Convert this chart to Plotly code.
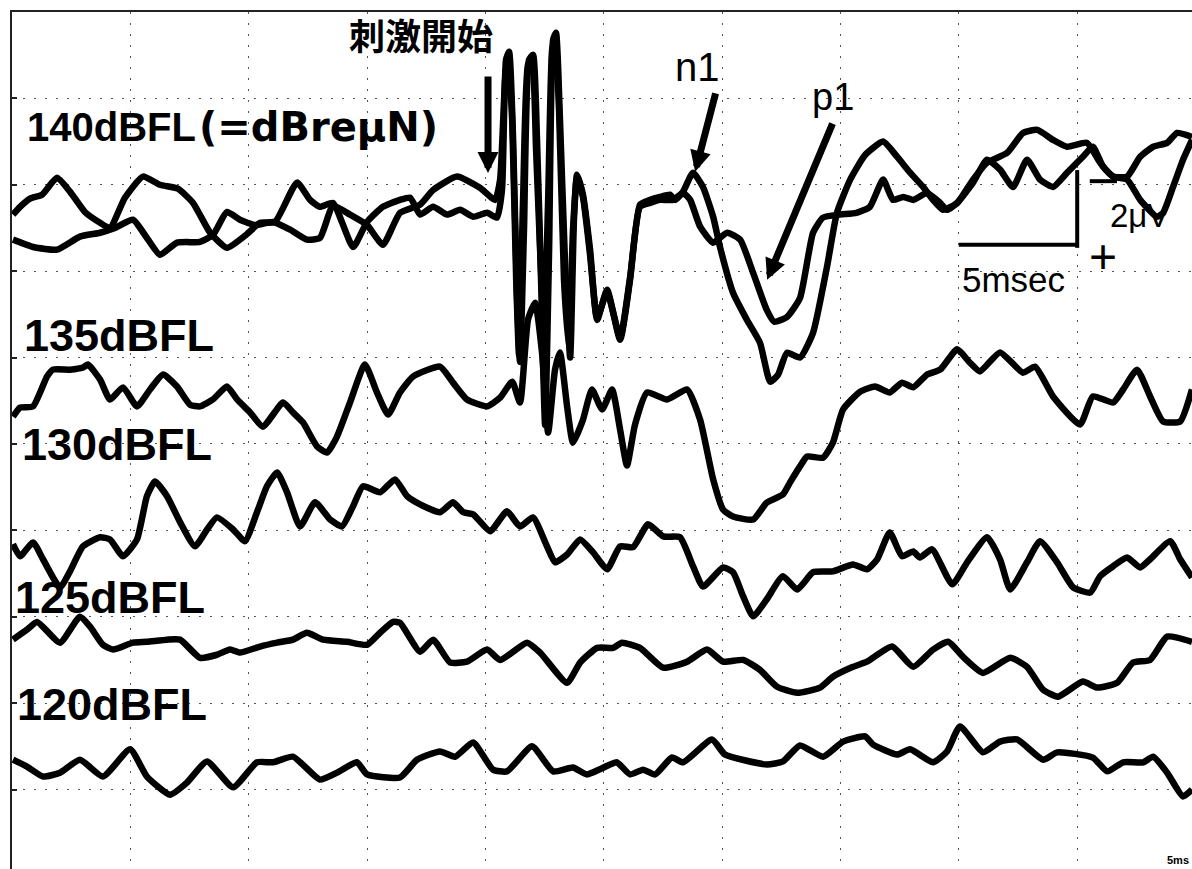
import plotly.graph_objects as go

# ---- data: time (ms) and amplitude (uV-scale units, positive = downward) ----
t_140a = [0.04,0.34,0.76,1.27,1.90,2.45,3.08,3.72,4.14,4.77,
          5.53,6.25,7.01,7.65,8.37,9.08,9.84,10.48,11.11,12.04,
          12.59,13.01,13.56,14.41,15.00,15.67,16.39,16.82,17.24,17.79,
          18.38,18.93,19.48,20.07,20.49,20.70,20.87,21.00,21.17,21.34,
          21.46,21.63,21.84,22.01,22.18,22.35,22.52,22.69,22.86,22.98,
          23.15,23.36,23.58,23.74,23.87,24.12,24.42,24.72,25.14,25.69,
          26.11,26.53,26.96,27.38,27.80,28.01,28.35,28.77,29.19,29.62,
          29.91,30.46,31.05,31.60,32.03,32.36,32.74,33.29,33.84,34.43,
          34.85,35.41,36.04,36.80,37.39,37.94,38.49,38.91,39.33,39.93,
          40.60,41.19,42.04,42.71,43.31,43.98,44.57,45.42,45.97,46.52,
          47.11,47.66,48.21,48.80,49.22,49.85]
v_140a = [0.69,0.51,0.32,0.23,-0.16,0.16,0.63,0.88,1.00,0.30,
          -0.19,0.00,0.09,0.42,1.11,1.46,1.18,0.88,0.86,-0.05,
          0.35,0.51,0.42,1.44,0.86,0.51,0.35,0.30,0.69,0.51,
          0.69,0.58,0.74,0.65,0.76,0.12,-2.89,-3.08,-1.04,2.66,
          4.10,1.04,-2.89,-3.01,-1.04,2.20,5.56,1.50,-3.36,-3.52,
          -1.50,1.74,4.00,0.81,-0.23,0.23,1.50,3.13,2.43,3.59,
          2.20,0.46,0.35,0.28,0.23,0.35,0.16,-0.28,0.05,0.74,
          1.44,2.50,3.13,3.66,4.56,4.40,3.89,4.00,3.43,1.90,
          0.65,-0.12,-0.69,-1.00,-0.65,-0.28,0.05,0.35,0.58,0.42,
          -0.12,-0.51,-0.74,-1.20,-1.27,-1.04,-0.88,-0.97,-0.51,-0.19,
          -0.19,-0.65,-0.88,-0.97,-1.20,-1.11]

t_140b = [0.04,0.89,1.90,2.87,3.72,4.35,5.11,5.70,6.25,6.97,
          7.94,8.49,9.08,9.63,10.27,11.03,11.75,12.46,13.01,13.56,
          14.28,15.00,15.67,16.39,17.24,17.79,18.80,19.77,20.41,20.62,
          20.83,20.96,21.13,21.30,21.42,21.59,21.80,21.97,22.14,22.31,
          22.48,22.65,22.82,22.94,23.11,23.32,23.53,23.70,23.87,24.12,
          24.42,24.72,25.14,25.69,26.11,26.53,26.96,27.38,27.93,28.35,
          28.65,29.07,29.62,30.21,30.76,31.31,31.88,32.20,32.74,33.29,
          33.84,34.26,34.98,35.67,36.24,36.80,37.22,37.65,38.07,38.66,
          39.21,39.50,39.93,40.60,41.19,41.74,42.29,42.88,43.43,43.98,
          44.57,45.24,45.66,46.09,46.52,47.11,47.66,48.37,48.63,49.05,
          49.47,49.85]
v_140b = [1.27,1.44,1.50,1.20,1.11,1.00,0.81,1.23,1.62,1.34,
          1.32,1.16,0.63,0.81,0.93,0.86,1.04,1.27,1.23,0.49,
          0.69,0.93,1.39,0.65,0.46,0.12,-0.19,0.07,0.35,-0.12,
          -2.43,-3.01,-1.50,2.20,3.94,0.35,-2.78,-2.89,-0.81,1.50,
          3.36,0.35,-3.13,-3.36,-1.74,2.20,3.82,1.04,-0.16,0.28,
          1.62,3.08,2.48,3.54,2.15,0.51,0.42,0.35,0.35,0.19,
          0.35,0.97,1.34,1.11,1.27,2.04,2.89,3.17,3.06,2.62,
          1.11,0.76,0.69,0.65,0.51,-0.12,0.35,0.28,0.35,0.19,
          0.42,0.58,0.42,-0.05,-0.58,-0.35,0.05,-0.58,-0.12,0.05,
          -0.28,-0.65,-0.88,-0.42,-0.19,-0.12,0.35,0.74,0.65,0.05,
          -0.58,-1.04]

t_135 = [0.04,0.34,0.89,1.48,1.73,2.45,3.00,3.21,3.72,4.14,
         4.69,5.28,5.83,6.38,6.97,7.52,7.94,8.49,9.08,9.51,
         10.06,10.60,11.45,11.87,12.29,12.89,13.31,13.73,14.28,14.91,
         15.42,15.89,16.39,16.94,18.08,18.63,19.22,20.07,20.62,21.13,
         21.46,21.80,22.10,22.39,22.65,22.94,23.15,23.45,23.70,24.12,
         24.50,24.93,25.35,25.69,25.98,26.32,26.83,27.67,28.52,29.07,
         29.62,30.04,30.46,31.31,31.88,32.57,32.87,33.29,33.59,34.26,
         34.68,35.11,35.83,36.46,37.08,37.60,38.07,38.66,39.21,39.93,
         40.47,40.89,41.74,42.71,43.22,43.98,45.12,45.66,46.52,46.94,
         47.53,48.08,48.63,49.35,49.85]
v_135 = [1.37,1.16,1.13,0.44,0.28,0.28,0.23,0.16,0.51,0.97,
         0.69,1.13,0.74,0.39,0.67,1.09,1.13,0.97,0.67,0.97,
         1.27,1.60,1.04,1.27,1.50,2.06,2.20,1.83,1.04,0.16,
         0.81,1.32,0.81,0.44,0.21,0.58,0.97,1.13,0.93,0.56,
         1.04,-0.88,-1.27,-0.12,1.74,0.28,-0.12,1.13,1.97,1.44,
         0.74,1.20,0.74,1.67,2.50,1.55,0.81,0.97,0.74,1.44,
         2.82,3.52,3.68,3.75,3.36,3.17,2.89,2.52,2.29,2.32,
         1.97,1.20,0.79,0.67,0.81,0.58,0.69,0.39,0.28,-0.19,
         0.12,0.32,-0.12,0.35,0.21,0.90,1.55,0.90,1.04,0.74,
         0.28,0.90,1.48,1.48,0.74]

t_130 = [0.04,0.34,0.89,1.31,2.03,2.45,3.00,3.72,4.14,4.69,
         5.28,5.70,6.04,6.55,7.10,7.73,8.24,8.66,9.34,9.84,
         10.35,10.77,11.20,11.62,12.17,12.80,13.44,13.94,14.41,14.83,
         15.55,16.18,16.69,17.24,18.08,18.63,19.06,19.48,20.20,20.91,
         21.46,22.01,22.60,22.94,23.45,24.00,24.55,25.14,25.69,26.24,
         26.87,27.51,28.22,28.77,29.19,30.04,30.46,30.89,31.31,31.88,
         32.57,33.17,33.84,34.68,35.53,36.12,36.55,37.08,37.60,38.07,
         38.36,38.87,39.72,40.35,41.19,41.74,42.17,42.88,43.43,44.15,
         44.83,45.55,45.97,46.52,47.11,47.66,48.08,48.93,49.35,49.85]
v_130 = [0.32,0.60,0.28,0.67,1.32,0.95,0.37,0.16,0.21,0.60,
         0.21,-0.79,-1.13,-0.79,-0.19,0.37,-0.02,-0.30,-0.02,0.25,
         -0.42,-1.02,-1.34,-0.88,-0.09,-0.65,-0.25,-0.09,-0.56,-1.02,
         -0.88,-1.18,-0.79,-0.60,-0.42,-0.65,-0.42,-0.37,0.02,-0.44,
         -0.09,-0.30,0.37,0.74,0.56,0.21,0.51,0.90,0.37,0.39,
         -0.14,0.14,0.16,0.83,1.30,0.86,0.97,1.53,1.99,1.60,
         1.06,1.37,0.97,0.95,0.79,0.90,0.67,0.05,0.60,0.49,
         0.63,0.44,1.25,0.74,0.16,0.67,1.37,0.74,0.25,0.74,
         1.32,1.44,1.06,0.83,0.63,0.86,0.67,0.25,0.67,1.09]

t_125 = [0.04,0.63,1.06,2.03,2.87,3.30,3.84,4.27,5.11,5.70,
         6.55,7.10,7.94,8.66,9.21,9.63,10.48,11.20,11.87,12.46,
         13.14,14.15,15.00,15.55,16.10,16.39,17.24,17.79,18.51,19.22,
         20.07,20.62,21.76,22.31,23.45,24.00,24.72,25.39,25.77,26.53,
         27.51,28.52,29.36,30.04,30.89,31.60,32.32,33.17,34.14,34.68,
         35.53,36.12,37.18,38.07,38.91,39.55,40.18,41.02,42.17,42.88,
         43.56,44.19,45.24,45.84,46.69,47.36,48.08,48.80,49.85]
v_125 = [0.53,0.30,0.12,0.60,0.00,0.23,0.65,0.76,0.60,0.58,
         0.53,0.53,0.95,0.88,0.76,0.83,0.69,0.60,0.53,0.37,
         0.53,0.58,0.65,0.37,0.12,0.14,0.81,0.53,1.06,1.04,
         0.76,1.00,0.60,0.83,1.53,1.06,0.72,0.72,0.60,0.72,
         1.18,1.04,0.76,1.04,1.00,1.23,1.62,1.76,1.64,1.39,
         1.16,1.04,0.69,1.16,0.76,0.58,0.93,1.30,0.95,1.16,
         1.69,1.85,1.50,1.64,1.53,1.06,1.00,0.46,0.58]

t_120 = [0.04,0.63,1.31,2.03,2.87,3.84,4.99,5.70,6.68,7.39,
         8.24,9.34,10.35,11.03,11.87,13.01,13.73,14.57,15.00,16.39,
         17.11,18.08,18.72,19.48,20.32,20.91,21.97,22.86,23.70,24.29,
         25.27,25.56,26.11,26.66,27.17,27.88,28.35,29.57,30.12,31.88,
         32.57,33.29,34.26,35.11,36.04,36.38,37.39,37.94,38.91,39.50,
         40.05,41.02,41.74,42.46,43.56,44.15,45.66,46.27,46.94,47.79,
         48.21,48.80,49.47,49.85]
v_120 = [-0.69,-0.53,-0.30,-0.39,-0.69,-0.30,-0.93,-0.30,0.12,-0.16,
         -0.65,-0.05,-0.63,-0.63,-0.76,-0.23,-0.39,-0.63,-0.35,-0.28,
         -0.69,-0.88,-0.76,-1.09,-0.46,-0.42,-1.00,-0.42,-0.51,-0.35,
         -0.58,-0.63,-0.35,-0.46,-0.35,-0.74,-0.63,-1.16,-0.81,-0.58,
         -0.65,-1.02,-0.76,-1.11,-1.23,-1.04,-0.81,-0.93,-0.63,-0.88,
         -1.46,-0.86,-1.11,-1.16,-0.69,-0.86,-0.74,-0.42,-0.63,-0.63,
         -0.76,-0.39,0.16,0.00]

# vertical stacking offset of each trace
offsets = {"140a": 4, "140b": 4, "135": 8, "130": 12, "125": 14, "120": 18}
traces = [("140a", t_140a, v_140a), ("140b", t_140b, v_140b),
          ("135", t_135, v_135), ("130", t_130, v_130),
          ("125", t_125, v_125), ("120", t_120, v_120)]

# level labels: (text, x, y, size, font)
level_labels = [("<b>140dBFL</b>", 0.55, 2.66, 40, "Liberation Sans, Arial, sans-serif"),
                ("<b>(=dBreμN)</b>", 7.80, 2.66, 40, "DejaVu Sans, sans-serif"),
                ("<b>135dBFL</b>", 0.42, 7.50, 45, "Liberation Sans, Arial, sans-serif"),
                ("<b>130dBFL</b>", 0.34, 10.02, 45, "Liberation Sans, Arial, sans-serif"),
                ("<b>125dBFL</b>", 0.04, 13.56, 45, "Liberation Sans, Arial, sans-serif"),
                ("<b>120dBFL</b>", 0.13, 16.04, 45, "Liberation Sans, Arial, sans-serif")]

fig = go.Figure()
for name, t, v in traces:
    off = offsets[name]
    fig.add_trace(go.Scatter(x=t, y=[off + a for a in v], mode="lines",
                             line=dict(color="black", width=6.5, shape="spline", smoothing=0.5),
                             hoverinfo="skip", showlegend=False))

ann = []
for txt, x, y, s, fam in level_labels:
    ann.append(dict(text=txt, x=x, y=y, xref="x", yref="y", xanchor="left", yanchor="middle",
                    showarrow=False, font=dict(family=fam, size=s, color="black")))

ann.append(dict(text="<b>刺激開始</b>", x=17.28, y=0.51, xref="x", yref="y", showarrow=False,
                font=dict(family="Noto Sans CJK JP", size=36, color="black")))
for txt, x, y, s in [("n1", 28.94, 1.28, 40), ("p1", 34.69, 1.97, 38), ("5msec", 42.33, 6.20, 35),
                     ("−", 46.13, 3.89, 56), ("+", 46.09, 5.67, 48)]:
    ann.append(dict(text=txt, x=x, y=y, xref="x", yref="y", showarrow=False,
                    font=dict(family="Liberation Sans, Arial, sans-serif", size=s, color="black")))
ann.append(dict(text="2μV", x=46.30, y=4.72, xref="x", yref="y", xanchor="left", showarrow=False,
                font=dict(family="Liberation Sans, Arial, sans-serif", size=33, color="black")))
ann.append(dict(text="<b>5ms</b>", x=49.80, y=19.62, xref="x", yref="y", xanchor="right", showarrow=False,
                font=dict(family="Liberation Sans Narrow, Liberation Sans, Arial", size=11, color="black")))

# arrows: (tip x, tip y, tail x, tail y)
arrows = [(20.11, 3.73, 20.11, 1.46), (28.86, 3.70, 29.74, 1.85), (31.90, 6.20, 34.69, 2.55)]
for x, y, axv, ayv in arrows:
    ann.append(dict(text="", x=x, y=y, ax=axv, ay=ayv, xref="x", yref="y", axref="x", ayref="y",
                    showarrow=True, arrowhead=2, arrowsize=0.6, arrowwidth=7, arrowcolor="black",
                    standoff=0))

# scale bar: 5 ms horizontal, vertical amplitude bar
scale_t = [40.0, 45.0]
scale_v = [3.66, 5.46]
shapes = [dict(type="line", x0=scale_t[0], x1=scale_t[1], y0=scale_v[1] - 0.07, y1=scale_v[1] - 0.07,
               xref="x", yref="y", line=dict(color="black", width=4)),
          dict(type="line", x0=scale_t[1], x1=scale_t[1], y0=scale_v[0], y1=scale_v[1],
               xref="x", yref="y", line=dict(color="black", width=4))]

fig.update_layout(width=1192, height=869, margin=dict(l=12, r=0, t=12, b=0),
                  paper_bgcolor="white", plot_bgcolor="white", showlegend=False,
                  annotations=ann, shapes=shapes, hovermode=False)
grid = dict(showgrid=True, gridcolor="#555", gridwidth=1.3, griddash="2px,9px",
            zeroline=False, showticklabels=False, showline=True, linecolor="#222", linewidth=2)
fig.update_xaxes(range=[0, 49.85], dtick=5, tick0=0, ticks="", side="top", **grid)
fig.update_yaxes(range=[19.84, 0], dtick=2, tick0=0, ticks="inside", ticklen=5, tickwidth=2,
                 tickcolor="#222", **grid)

fig.write_html("out.html")
